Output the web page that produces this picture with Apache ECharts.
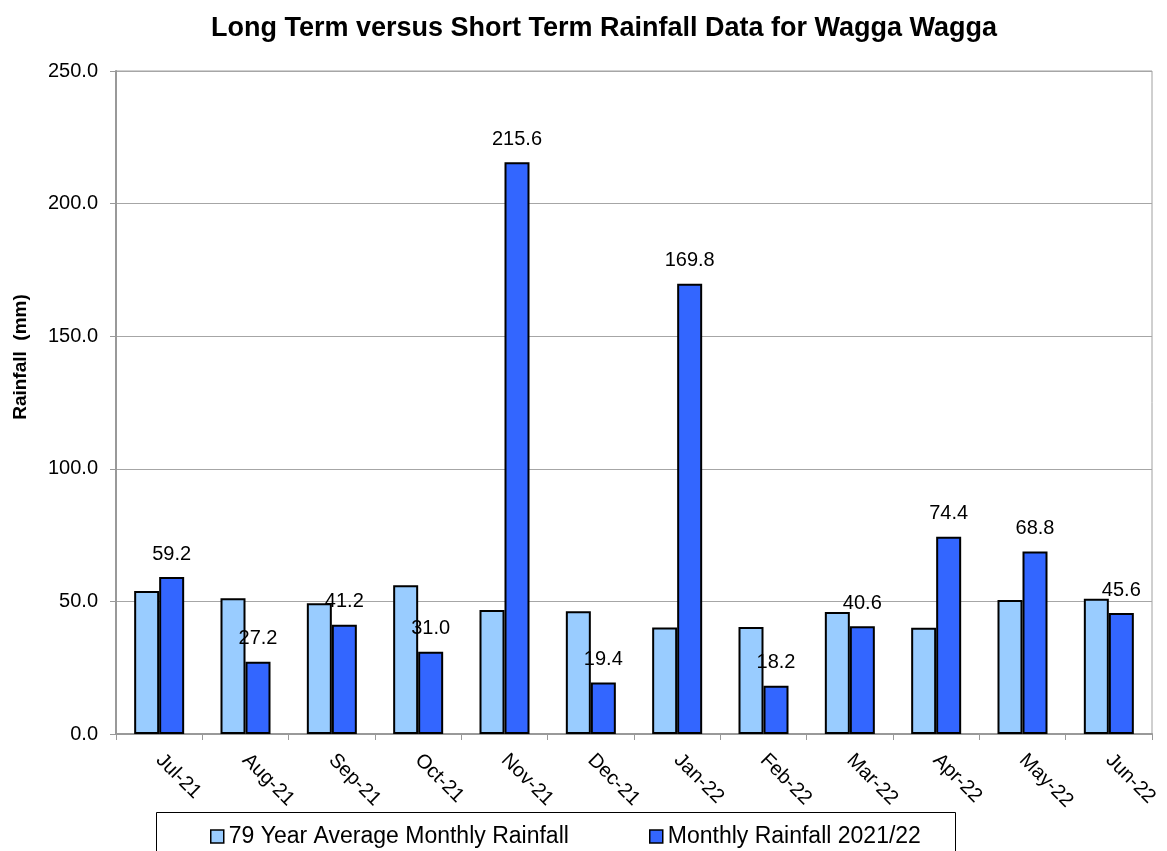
<!DOCTYPE html>
<html>
<head>
<meta charset="utf-8">
<script src="https://cdn.jsdelivr.net/npm/echarts@6/dist/echarts.min.js"></script>
<style>
html,body{margin:0;padding:0;background:#fff;}
#chart{width:1167px;height:851px;}
</style>
</head>
<body>
<div id="chart"></div>
<script>
const categories = ['Jul-21','Aug-21','Sep-21','Oct-21','Nov-21','Dec-21','Jan-22','Feb-22','Mar-22','Apr-22','May-22','Jun-22'];
const avgRainfall = [53.9, 51.2, 49.3, 56.1, 46.8, 46.3, 40.2, 40.3, 46.0, 40.1, 50.5, 51.0];
const monthlyRainfall = [59.2, 27.2, 41.2, 31.0, 215.6, 19.4, 169.8, 18.2, 40.6, 74.4, 68.8, 45.6];
const seriesNames = ['79 Year Average Monthly Rainfall', 'Monthly Rainfall 2021/22'];
const titleText = 'Long Term versus Short Term Rainfall Data for Wagga Wagga';
const yAxisTitle = 'Rainfall  (mm)';

const FONT = '"Liberation Sans", Arial, sans-serif';
const legendBase = {
  orient: 'horizontal',
  top: 825,
  padding: 0,
  itemWidth: 13, itemHeight: 13,
  icon: 'rect',
  itemStyle: {borderColor: '#000', borderWidth: 1.5},
  textStyle: {fontFamily: FONT, fontSize: 23, color: '#000'}
};
const chart = echarts.init(document.getElementById('chart'), null, {renderer: 'canvas'});
chart.setOption({
  backgroundColor: '#ffffff',
  animation: false,
  title: {
    text: titleText,
    left: 211, top: 15, padding: 0,
    textStyle: {fontFamily: FONT, fontSize: 27, fontWeight: 'bold', color: '#000'}
  },
  graphic: [{
    type: 'text',
    x: 21, y: 357,
    rotation: Math.PI / 2,
    style: {
      text: yAxisTitle,
      font: 'bold 19px "Liberation Sans", Arial, sans-serif',
      fill: '#000',
      textAlign: 'center',
      textVerticalAlign: 'middle'
    }
  }, {
    type: 'rect',
    shape: {x: 156.5, y: 812.5, width: 799, height: 60},
    style: {fill: 'none', stroke: '#000', lineWidth: 1},
    silent: true
  }],
  legend: [
    Object.assign({}, legendBase, {data: [seriesNames[0]], left: 210}),
    Object.assign({}, legendBase, {data: [seriesNames[1]], left: 649})
  ],
  grid: {
    left: 116, right: 15, top: 71, bottom: 117,
    show: true, borderColor: '#a0a0a0', borderWidth: 1,
    containLabel: false
  },
  xAxis: {
    type: 'category',
    data: categories,
    axisLine: {lineStyle: {color: '#999', width: 2}},
    axisTick: {show: true, length: 6, lineStyle: {color: '#999', width: 1}},
    axisLabel: {
      rotate: -45, margin: 23, interval: 0,
      fontFamily: FONT, fontSize: 20, color: '#000'
    },
    splitLine: {show: false}
  },
  yAxis: {
    type: 'value',
    min: 0, max: 250, interval: 50,
    axisLine: {show: true, lineStyle: {color: '#999', width: 2}},
    axisTick: {show: true, length: 6, lineStyle: {color: '#999', width: 1}},
    axisLabel: {
      margin: 18,
      fontFamily: FONT, fontSize: 20, color: '#000',
      formatter: v => v.toFixed(1)
    },
    splitLine: {lineStyle: {color: '#a6a6a6', width: 1}}
  },
  series: [
    {
      name: seriesNames[0],
      type: 'bar',
      data: avgRainfall,
      barWidth: 25,
      barGap: '0%',
      itemStyle: {color: '#99CCFF', borderColor: '#000', borderWidth: 2}
    },
    {
      name: seriesNames[1],
      type: 'bar',
      data: monthlyRainfall,
      barWidth: 25,
      barGap: '0%',
      itemStyle: {color: '#3366FF', borderColor: '#000', borderWidth: 2},
      label: {
        show: true, position: 'top', distance: 13,
        fontFamily: FONT, fontSize: 20, color: '#000',
        formatter: p => p.value.toFixed(1)
      }
    }
  ]
});
</script>
</body>
</html>
